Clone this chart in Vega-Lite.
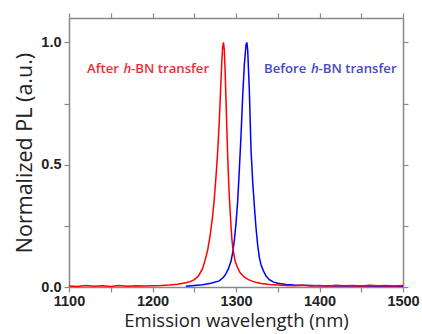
{
  "$schema": "https://vega.github.io/schema/vega-lite/v6.json",
  "width": 334,
  "height": 269,
  "autosize": {"type": "none"},
  "padding": {"left": 69, "top": 18, "right": 19, "bottom": 47},
  "background": "white",
  "config": {
    "view": {"stroke": null},
    "axis": {
      "grid": false,
      "domainColor": "#888888",
      "domainWidth": 1.5,
      "tickColor": "#888888",
      "tickWidth": 1.2,
      "tickSize": 5,
      "labelFont": "Liberation Sans",
      "labelFontWeight": "bold",
      "labelFontSize": 14.5,
      "labelColor": "#222222",
      "titleFont": "Open Sans",
      "titleFontWeight": "normal",
      "titleFontSize": 18.5,
      "titleColor": "#222222"
    }
  },
  "datasets": {
    "spectra": [
      {"series": "Before", "wl": 1240, "pl": 0.003},
      {"series": "Before", "wl": 1250, "pl": 0.006},
      {"series": "Before", "wl": 1260, "pl": 0.009},
      {"series": "Before", "wl": 1270, "pl": 0.015},
      {"series": "Before", "wl": 1280, "pl": 0.025},
      {"series": "Before", "wl": 1285, "pl": 0.04},
      {"series": "Before", "wl": 1288, "pl": 0.055},
      {"series": "Before", "wl": 1291, "pl": 0.075},
      {"series": "Before", "wl": 1294, "pl": 0.105},
      {"series": "Before", "wl": 1296, "pl": 0.14},
      {"series": "Before", "wl": 1298, "pl": 0.19},
      {"series": "Before", "wl": 1300, "pl": 0.26},
      {"series": "Before", "wl": 1302, "pl": 0.35},
      {"series": "Before", "wl": 1304, "pl": 0.48},
      {"series": "Before", "wl": 1306, "pl": 0.62},
      {"series": "Before", "wl": 1308, "pl": 0.78},
      {"series": "Before", "wl": 1310, "pl": 0.91},
      {"series": "Before", "wl": 1312, "pl": 0.99},
      {"series": "Before", "wl": 1313, "pl": 1.0},
      {"series": "Before", "wl": 1314, "pl": 0.97},
      {"series": "Before", "wl": 1316, "pl": 0.8},
      {"series": "Before", "wl": 1318, "pl": 0.56},
      {"series": "Before", "wl": 1320, "pl": 0.43},
      {"series": "Before", "wl": 1322, "pl": 0.33},
      {"series": "Before", "wl": 1324, "pl": 0.24},
      {"series": "Before", "wl": 1326, "pl": 0.17},
      {"series": "Before", "wl": 1328, "pl": 0.12},
      {"series": "Before", "wl": 1330, "pl": 0.09},
      {"series": "Before", "wl": 1333, "pl": 0.065},
      {"series": "Before", "wl": 1336, "pl": 0.045},
      {"series": "Before", "wl": 1340, "pl": 0.03},
      {"series": "Before", "wl": 1345, "pl": 0.02},
      {"series": "Before", "wl": 1350, "pl": 0.015},
      {"series": "Before", "wl": 1360, "pl": 0.01},
      {"series": "Before", "wl": 1370, "pl": 0.008},
      {"series": "Before", "wl": 1380, "pl": 0.007},
      {"series": "Before", "wl": 1390, "pl": 0.006},
      {"series": "Before", "wl": 1400, "pl": 0.005},
      {"series": "Before", "wl": 1420, "pl": 0.004},
      {"series": "Before", "wl": 1450, "pl": 0.004},
      {"series": "Before", "wl": 1500, "pl": 0.003},
      {"series": "After", "wl": 1100, "pl": 0.004},
      {"series": "After", "wl": 1110, "pl": 0.002},
      {"series": "After", "wl": 1120, "pl": 0.006},
      {"series": "After", "wl": 1130, "pl": 0.003},
      {"series": "After", "wl": 1140, "pl": 0.005},
      {"series": "After", "wl": 1150, "pl": 0.002},
      {"series": "After", "wl": 1160, "pl": 0.006},
      {"series": "After", "wl": 1170, "pl": 0.003},
      {"series": "After", "wl": 1180, "pl": 0.005},
      {"series": "After", "wl": 1190, "pl": 0.004},
      {"series": "After", "wl": 1200, "pl": 0.005},
      {"series": "After", "wl": 1210, "pl": 0.006},
      {"series": "After", "wl": 1220, "pl": 0.008},
      {"series": "After", "wl": 1230, "pl": 0.011},
      {"series": "After", "wl": 1240, "pl": 0.017},
      {"series": "After", "wl": 1245, "pl": 0.022},
      {"series": "After", "wl": 1250, "pl": 0.03},
      {"series": "After", "wl": 1255, "pl": 0.045},
      {"series": "After", "wl": 1260, "pl": 0.075},
      {"series": "After", "wl": 1263, "pl": 0.11},
      {"series": "After", "wl": 1266, "pl": 0.15},
      {"series": "After", "wl": 1269, "pl": 0.21},
      {"series": "After", "wl": 1272, "pl": 0.29},
      {"series": "After", "wl": 1274, "pl": 0.36},
      {"series": "After", "wl": 1276, "pl": 0.45},
      {"series": "After", "wl": 1278, "pl": 0.55},
      {"series": "After", "wl": 1280, "pl": 0.68},
      {"series": "After", "wl": 1282, "pl": 0.84},
      {"series": "After", "wl": 1283, "pl": 0.92},
      {"series": "After", "wl": 1284, "pl": 0.98},
      {"series": "After", "wl": 1285, "pl": 1.0},
      {"series": "After", "wl": 1286, "pl": 0.97},
      {"series": "After", "wl": 1287, "pl": 0.88},
      {"series": "After", "wl": 1288, "pl": 0.77},
      {"series": "After", "wl": 1289, "pl": 0.65},
      {"series": "After", "wl": 1290, "pl": 0.54},
      {"series": "After", "wl": 1291, "pl": 0.45},
      {"series": "After", "wl": 1292, "pl": 0.37},
      {"series": "After", "wl": 1293, "pl": 0.31},
      {"series": "After", "wl": 1294, "pl": 0.25},
      {"series": "After", "wl": 1295, "pl": 0.2},
      {"series": "After", "wl": 1296, "pl": 0.165},
      {"series": "After", "wl": 1297, "pl": 0.145},
      {"series": "After", "wl": 1299, "pl": 0.105},
      {"series": "After", "wl": 1302, "pl": 0.078},
      {"series": "After", "wl": 1305, "pl": 0.058},
      {"series": "After", "wl": 1310, "pl": 0.04},
      {"series": "After", "wl": 1315, "pl": 0.03},
      {"series": "After", "wl": 1320, "pl": 0.023},
      {"series": "After", "wl": 1325, "pl": 0.018},
      {"series": "After", "wl": 1330, "pl": 0.014},
      {"series": "After", "wl": 1340, "pl": 0.01},
      {"series": "After", "wl": 1350, "pl": 0.008},
      {"series": "After", "wl": 1360, "pl": 0.006},
      {"series": "After", "wl": 1370, "pl": 0.005},
      {"series": "After", "wl": 1380, "pl": 0.007},
      {"series": "After", "wl": 1390, "pl": 0.004},
      {"series": "After", "wl": 1400, "pl": 0.006},
      {"series": "After", "wl": 1410, "pl": 0.004},
      {"series": "After", "wl": 1420, "pl": 0.007},
      {"series": "After", "wl": 1430, "pl": 0.005},
      {"series": "After", "wl": 1440, "pl": 0.006},
      {"series": "After", "wl": 1450, "pl": 0.004},
      {"series": "After", "wl": 1460, "pl": 0.007},
      {"series": "After", "wl": 1470, "pl": 0.005},
      {"series": "After", "wl": 1480, "pl": 0.006},
      {"series": "After", "wl": 1490, "pl": 0.004},
      {"series": "After", "wl": 1500, "pl": 0.006}
    ],
    "labels": [
      {"series": "After", "style": "normal", "text": "After", "wl": 1121.6, "pl": 0.876},
      {"series": "After", "style": "italic", "text": "h", "wl": 1165.3, "pl": 0.876},
      {"series": "After", "style": "normal", "text": "-BN transfer", "wl": 1174.3, "pl": 0.876},
      {"series": "Before", "style": "normal", "text": "Before", "wl": 1333.5, "pl": 0.876},
      {"series": "Before", "style": "italic", "text": "h", "wl": 1389.8, "pl": 0.876},
      {"series": "Before", "style": "normal", "text": "-BN transfer", "wl": 1398.8, "pl": 0.876}
    ]
  },
  "resolve": {"axis": {"x": "independent", "y": "independent"}},
  "layer": [
    {
      "data": {"name": "spectra"},
      "transform": [{"filter": "datum.series == 'Before'"}],
      "mark": {"type": "line", "color": "#0000ff", "strokeWidth": 1.5},
      "encoding": {
        "x": {"field": "wl", "type": "quantitative",
          "scale": {"domain": [1100, 1500], "nice": false, "zero": false},
          "axis": {"orient": "bottom", "title": "Emission wavelength (nm)",
            "values": [1100, 1150, 1200, 1250, 1300, 1350, 1400, 1450, 1500],
            "labelExpr": "datum.value % 100 == 0 ? datum.value : ''",
            "labelPadding": 2, "titlePadding": 4, "labelFlush": false}},
        "y": {"field": "pl", "type": "quantitative",
          "scale": {"domain": [0, 1.1], "nice": false},
          "axis": {"orient": "left", "title": "Normalized PL (a.u.)", "titleFontSize": 21.5,
            "values": [0, 0.25, 0.5, 0.75, 1.0],
            "labelExpr": "datum.value == 0.25 || datum.value == 0.75 ? '' : format(datum.value, '.1f')",
            "labelPadding": 3, "titlePadding": 4, "labelFlush": false}}
      }
    },
    {
      "data": {"name": "spectra"},
      "transform": [{"filter": "datum.series == 'After'"}],
      "mark": {"type": "line", "color": "#ff0000", "strokeWidth": 1.5},
      "encoding": {
        "x": {"field": "wl", "type": "quantitative", "axis": null},
        "y": {"field": "pl", "type": "quantitative", "axis": null}
      }
    },
    {
      "data": {"name": "labels"},
      "transform": [{"filter": "datum.style == 'normal'"}],
      "mark": {"type": "text", "align": "left", "baseline": "alphabetic", "font": "Open Sans", "fontSize": 13.2, "fontWeight": 600},
      "encoding": {
        "x": {"field": "wl", "type": "quantitative",
          "axis": {"orient": "top", "labels": false, "title": null,
            "values": [1100, 1150, 1200, 1250, 1300, 1350, 1400, 1450, 1500]}},
        "y": {"field": "pl", "type": "quantitative",
          "axis": {"orient": "right", "labels": false, "title": null,
            "values": [0, 0.25, 0.5, 0.75, 1.0]}},
        "text": {"field": "text"},
        "color": {"field": "series", "type": "nominal",
          "scale": {"domain": ["After", "Before"], "range": ["#e8303a", "#4848c8"]}, "legend": null}
      }
    },
    {
      "data": {"name": "labels"},
      "transform": [{"filter": "datum.style == 'italic'"}],
      "mark": {"type": "text", "align": "left", "baseline": "alphabetic", "font": "Open Sans", "fontSize": 13.2, "fontWeight": 600, "fontStyle": "italic"},
      "encoding": {
        "x": {"field": "wl", "type": "quantitative", "axis": null},
        "y": {"field": "pl", "type": "quantitative", "axis": null},
        "text": {"field": "text"},
        "color": {"field": "series", "type": "nominal", "legend": null}
      }
    }
  ]
}
